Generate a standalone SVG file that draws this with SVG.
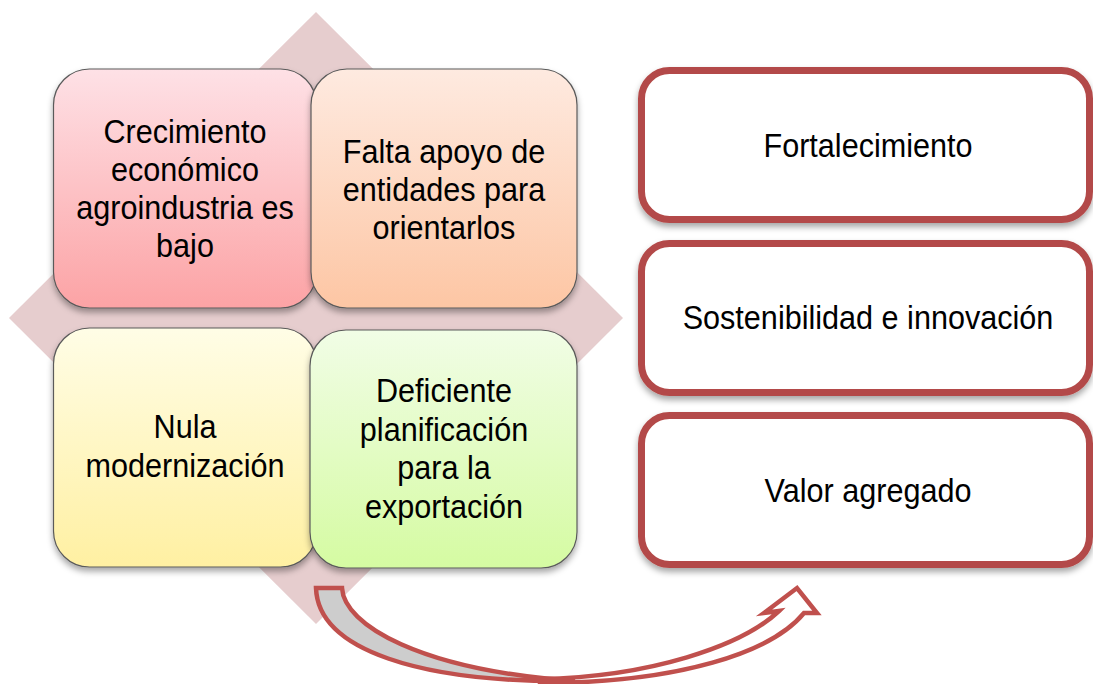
<svg xmlns="http://www.w3.org/2000/svg" width="1093" height="684" viewBox="0 0 1093 684">
<defs>
<linearGradient id="gPink" x1="0" y1="0" x2="0" y2="1"><stop offset="0" stop-color="#fee1e6"/><stop offset="1" stop-color="#fca3a5"/></linearGradient>
<linearGradient id="gPeach" x1="0" y1="0" x2="0" y2="1"><stop offset="0" stop-color="#feeae0"/><stop offset="1" stop-color="#fdc6a4"/></linearGradient>
<linearGradient id="gYellow" x1="0" y1="0" x2="0" y2="1"><stop offset="0" stop-color="#fffde6"/><stop offset="1" stop-color="#fff0a2"/></linearGradient>
<linearGradient id="gGreen" x1="0" y1="0" x2="0" y2="1"><stop offset="0" stop-color="#f1fde6"/><stop offset="1" stop-color="#d5fba2"/></linearGradient>
<filter id="sh" x="-10%" y="-10%" width="120%" height="125%"><feDropShadow dx="0" dy="4" stdDeviation="3" flood-color="#000" flood-opacity="0.35"/></filter>
</defs>
<style>
.q{stroke:#5a5a5a;stroke-width:1.2;filter:url(#sh)}
.r{fill:#fff;stroke:#b34a48;stroke-width:7;filter:url(#sh)}
text{font-family:"Liberation Sans",Arial,sans-serif;font-size:34px;fill:#000;text-anchor:middle}
.arrow{stroke:#c0504d;stroke-width:4.5;stroke-linejoin:miter}
</style>
<polygon id="diamond" points="316,12 623,318 316,624 9,318" fill="#e6cdce"/>
<g id="n1"><rect class="q" x="53.5" y="69" width="263" height="239" rx="36" fill="url(#gPink)"/>
<g transform="translate(185 0) scale(0.9 1)"><text x="0" y="143">Crecimiento</text><text x="0" y="181">económico</text><text x="0" y="219">agroindustria es</text><text x="0" y="257">bajo</text></g></g>
<g id="n2"><rect class="q" x="311" y="69" width="266" height="239" rx="36" fill="url(#gPeach)"/>
<g transform="translate(444 0) scale(0.9 1)"><text x="0" y="163">Falta apoyo de</text><text x="0" y="201">entidades para</text><text x="0" y="239">orientarlos</text></g></g>
<g id="n3"><rect class="q" x="53.5" y="328" width="263" height="239" rx="36" fill="url(#gYellow)"/>
<g transform="translate(185 0) scale(0.9 1)"><text x="0" y="438">Nula</text><text x="0" y="477">modernización</text></g></g>
<g id="n4"><rect class="q" x="310" y="330" width="267" height="238" rx="36" fill="url(#gGreen)"/>
<g transform="translate(444 0) scale(0.9 1)"><text x="0" y="402">Deficiente</text><text x="0" y="441">planificación</text><text x="0" y="479">para la</text><text x="0" y="518">exportación</text></g></g>
<g id="r1"><rect class="r" x="641.5" y="70.5" width="448" height="149" rx="28"/><g transform="translate(868 0) scale(0.9 1)"><text x="0" y="157">Fortalecimiento</text></g></g>
<g id="r2"><rect class="r" x="641.5" y="243.5" width="448" height="149" rx="28"/><g transform="translate(868 0) scale(0.9 1)"><text x="0" y="329">Sostenibilidad e innovación</text></g></g>
<g id="r3"><rect class="r" x="641.5" y="415.5" width="448" height="149" rx="28"/><g transform="translate(868 0) scale(0.9 1)"><text x="0" y="502">Valor agregado</text></g></g>
<g id="connectors">
<path class="arrow" fill="#fff" d="M540,679 C650,677 742,646 779,611 L764,613 L797,588 L817,613 L804,613 C772,652 680,683 540,683 Z"/>
<path class="arrow" fill="#cdcdcd" d="M316,588 L342,588 C344,625 420,670 575,681 C420,683 318,650 316,588 Z"/>
</g>
</svg>
